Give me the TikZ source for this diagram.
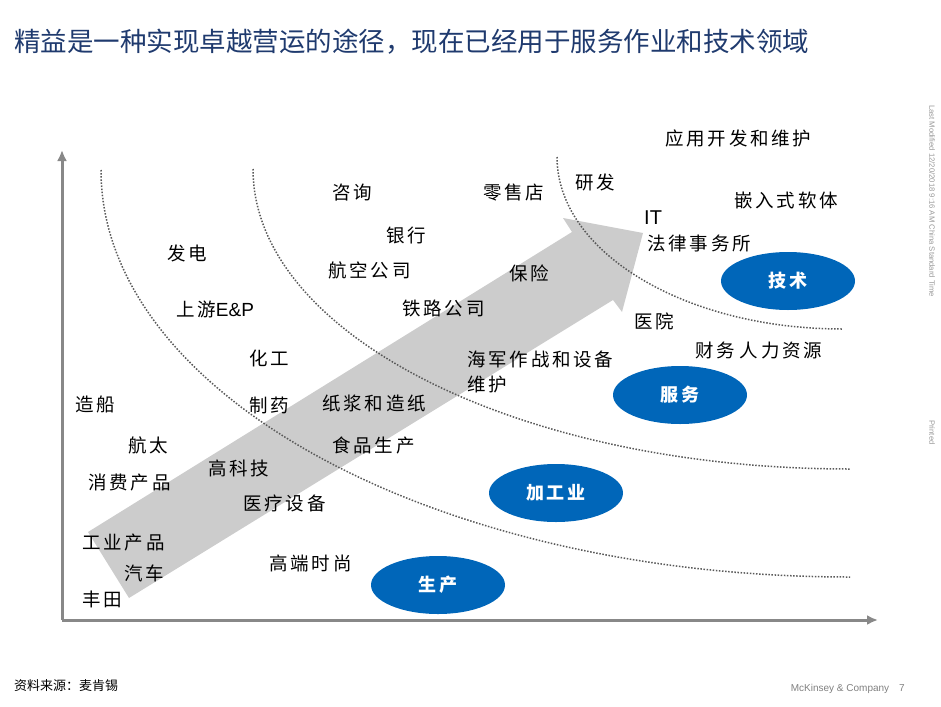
\documentclass[tikz,border=0pt]{standalone}
\usepackage{fontspec}
\setmainfont{Liberation Sans}
\newfontfamily\cjk[LetterSpace=15]{Noto Sans CJK SC}
\newfontfamily\cjktight{Noto Sans CJK SC}
\usetikzlibrary{arrows.meta,shapes.geometric}

\definecolor{titleblue}{RGB}{31,58,110}
\definecolor{ovalblue}{RGB}{0,102,185}
\definecolor{axisgray}{RGB}{136,136,136}
\definecolor{bandgray}{RGB}{204,204,204}

\tikzset{
  item/.style={anchor=west, inner sep=0pt, font=\cjk\fontsize{18.5}{22}\selectfont},
  latin/.style={anchor=west, inner sep=0pt, font=\fontsize{20}{22}\selectfont},
  zone/.style={shape=ellipse, fill=ovalblue, minimum width=134pt, minimum height=58pt,
    inner sep=0pt, text=white, font=\cjk\bfseries\fontsize{18}{20}\selectfont},
  border/.style={black!65, line width=1.5pt, dash pattern=on 1.5pt off 1.6pt},
  axis/.style={axisgray, line width=3pt, -{Latex[length=11pt,width=10pt]}},
  note/.style={inner sep=0pt, text=black!40, font=\fontsize{7.7}{9}\selectfont}
}

\begin{document}
\begin{tikzpicture}[x=1pt, y=-1pt]
    \useasboundingbox (0,0) rectangle (941,706);

    % Title
    \node[anchor=west, inner sep=0pt, text=titleblue, font=\cjktight\fontsize{26.5}{28}\selectfont]
        (title) at (14,42) {精益是一种实现卓越营运的途径，现在已经用于服务作业和技术领域};

    % Broad grey arrow
    \fill[bandgray] (88,532) -- (572,232) -- (563,218) -- (643,233)
        -- (622,312) -- (613,300) -- (129,598) -- cycle;

    % Dotted borders between the zones
    \draw[border] (101,170) .. controls (101,395) and (437,577) .. (850,577);
    \draw[border] (253,169) .. controls (253,335) and (520,469) .. (850,469);
    \draw[border] (557,157) .. controls (557,252) and (685,329) .. (842,329);

    % Axes
    \coordinate (o) at (62,620);
    \coordinate (ytop) at (62,150);
    \coordinate (xend) at (878,620);
    \draw[axis] (o) -- (ytop);
    \draw[axis] (o) -- (xend);

    % Sectors, left part
    \node[item] (fadian) at (167,253) {发电};
    \node[item] (shangyou) at (176,309) {上游{\rmfamily\fontsize{19}{22}\selectfont E\&P}};
    \node[item] (huagong) at (249,358) {化工};
    \node[item] (zixun) at (332,193) {咨询};
    \node[item] (yinhang) at (386,235) {银行};
    \node[item] (hangkong) at (328,270) {航空公司};
    \node[item] (tielu) at (402,308) {铁路公司};
    \node[item] (zaochuan) at (75,404) {造船};
    \node[item] (zhiyao) at (249,405) {制药};
    \node[item] (zhijiang) at (322,403) {纸浆和造纸};
    \node[item] (hangtai) at (128,445) {航太};
    \node[item] (shipin) at (332,445) {食品生产};
    \node[item] (gaokeji) at (208,468) {高科技};
    \node[item] (xiaofei) at (88,483) {消费产品};
    \node[item] (yiliao) at (243,503) {医疗设备};
    \node[item] (gongye) at (82,543) {工业产品};
    \node[item] (qiche) at (124,573) {汽车};
    \node[item] (gaoduan) at (269,563) {高端时尚};
    \node[item] (fengtian) at (82,599) {丰田};

    % Sectors, right part
    \node[item] (yingyong) at (665,138) {应用开发和维护};
    \node[item] (lingshou) at (483,193) {零售店};
    \node[item] (yanfa) at (575,182) {研发};
    \node[item] (qianru) at (734,200) {嵌入式软体};
    \node[latin] (it) at (644,218) {IT};
    \node[item] (falv) at (647,243) {法律事务所};
    \node[item] (baoxian) at (509,273) {保险};
    \node[item] (yiyuan) at (634,321) {医院};
    \node[item] (caiwu) at (695,350) {财务\hspace{5pt}人力资源};
    \node[item, align=left, font=\cjk\fontsize{18.5}{25}\selectfont] (haijun) at (467,372) {海军作战和设备\\维护};

    % Zones
    \node[zone] (tech) at (788,281) {技术};
    \node[zone] (service) at (680,395) {服务};
    \node[zone] (process) at (556,493) {加工业};
    \node[zone] (produce) at (438,585) {生产};

    % Footer and margin notes
    \node[anchor=west, inner sep=0pt, font=\cjktight\fontsize{13}{15}\selectfont] (source) at (14,686) {资料来源：麦肯锡};
    \node[anchor=east, inner sep=0pt, text=black!50, font=\fontsize{10}{12}\selectfont] (brand) at (905,689) {McKinsey \& Company\quad 7};
    \node[note, anchor=west, rotate=-90] (modified) at (932,105) {Last Modified 12/20/2018 9:16 AM China Standard Time};
    \node[note, anchor=west, rotate=-90] (printed) at (932,420) {Printed};
\end{tikzpicture}
\end{document}
